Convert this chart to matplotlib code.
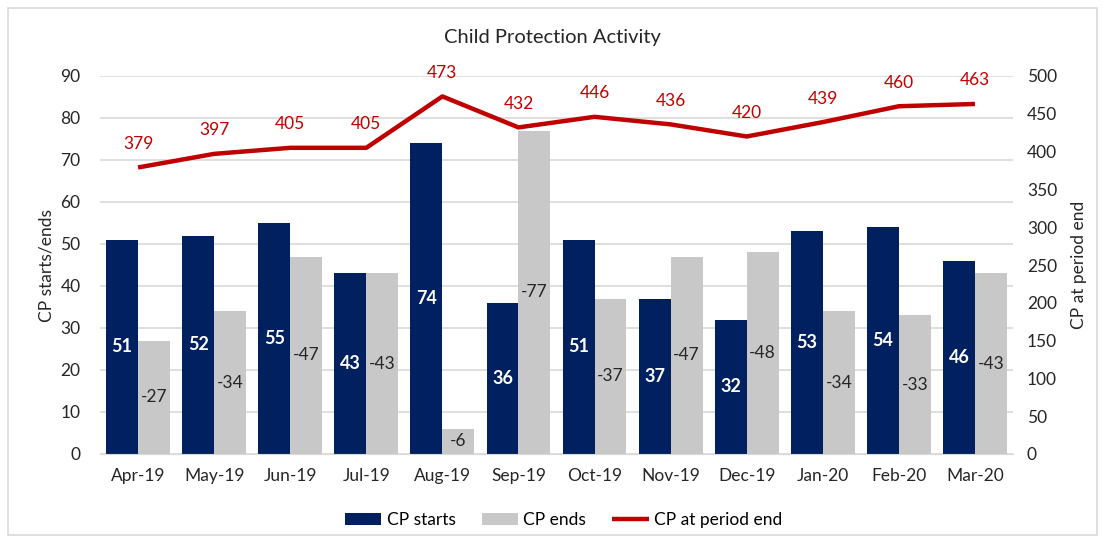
import numpy as np
import matplotlib.pyplot as plt
from matplotlib.patches import Rectangle

months = ['Apr-19', 'May-19', 'Jun-19', 'Jul-19', 'Aug-19', 'Sep-19',
          'Oct-19', 'Nov-19', 'Dec-19', 'Jan-20', 'Feb-20', 'Mar-20']
cp_starts = [51, 52, 55, 43, 74, 36, 51, 37, 32, 53, 54, 46]
cp_ends = [27, 34, 47, 43, 6, 77, 37, 47, 48, 34, 33, 43]
cp_period_end = [379, 397, 405, 405, 473, 432, 446, 436, 420, 439, 460, 463]

navy = '#002060'
grey = '#c8c8c8'
red = '#c00000'

plt.rcParams['font.family'] = ['Lato', 'DejaVu Sans']

fig = plt.figure(figsize=(11.05, 5.42), dpi=100)
ax = fig.add_axes([100 / 1105, 1 - 454 / 542, 913 / 1105, 378 / 542])
ax2 = ax.twinx()

x = np.arange(len(months))
w = 0.42
b1 = ax.bar(x - w / 2, cp_starts, w, color=navy, label='CP starts', zorder=2)
b2 = ax.bar(x + w / 2, cp_ends, w, color=grey, label='CP ends', zorder=2)

for i in range(len(months)):
    ax.text(x[i] - w / 2, cp_starts[i] / 2, str(cp_starts[i]), ha='center', va='center',
            color='white', fontsize=13, fontweight='bold', zorder=3)
    ax.text(x[i] + w / 2, cp_ends[i] / 2, '-' + str(cp_ends[i]), ha='center', va='center',
            color='#262626', fontsize=12.5, zorder=3)

ln, = ax2.plot(x, cp_period_end, color=red, lw=3.2, label='CP at period end',
               solid_capstyle='butt')
for i in range(len(months)):
    ax2.annotate(str(cp_period_end[i]), (x[i], cp_period_end[i]), xytext=(0, 17),
                 textcoords='offset points', ha='center', va='center', color=red, fontsize=12.5)

ax.set_xlim(-0.5, len(months) - 0.5)
ax.set_ylim(0, 90)
ax2.set_ylim(0, 500)
ax.set_yticks(range(0, 91, 10))
ax2.set_yticks(range(0, 501, 50))
ax.set_xticks(x)
ax.set_xticklabels(months)
ax.grid(axis='y', color='#d9d9d9', lw=1.2, zorder=0)
ax.set_axisbelow(True)

for a in (ax, ax2):
    for s in a.spines.values():
        s.set_visible(False)
    a.tick_params(length=0, labelsize=12.5, colors='#262626')
ax.spines['bottom'].set_visible(True)
ax.spines['bottom'].set_color('#d9d9d9')
ax.tick_params(axis='x', pad=10)
ax.tick_params(axis='y', pad=14)
ax2.tick_params(axis='y', pad=10)

ax.set_ylabel('CP starts/ends', fontsize=12.5, color='#262626', labelpad=4)
ax2.set_ylabel('CP at period end', fontsize=12.5, color='#262626', labelpad=10)
fig.text(0.5, 1 - 37 / 542, 'Child Protection Activity', ha='center', va='center',
         fontsize=14.5, color='#262626')

fig.legend(handles=[b1, b2, ln], loc='center', bbox_to_anchor=(0.510, 1 - 520 / 542),
           ncol=3, frameon=False, fontsize=12.5, handlelength=2.1, handleheight=0.75,
           columnspacing=1.5, handletextpad=0.3)

fig.patches.append(Rectangle((8 / 1105, 1 - 535 / 542), 1089 / 1105, 527 / 542,
                             transform=fig.transFigure, fill=False, edgecolor='#d9d9d9', lw=1.2))

fig.savefig('out.png', dpi=100)
